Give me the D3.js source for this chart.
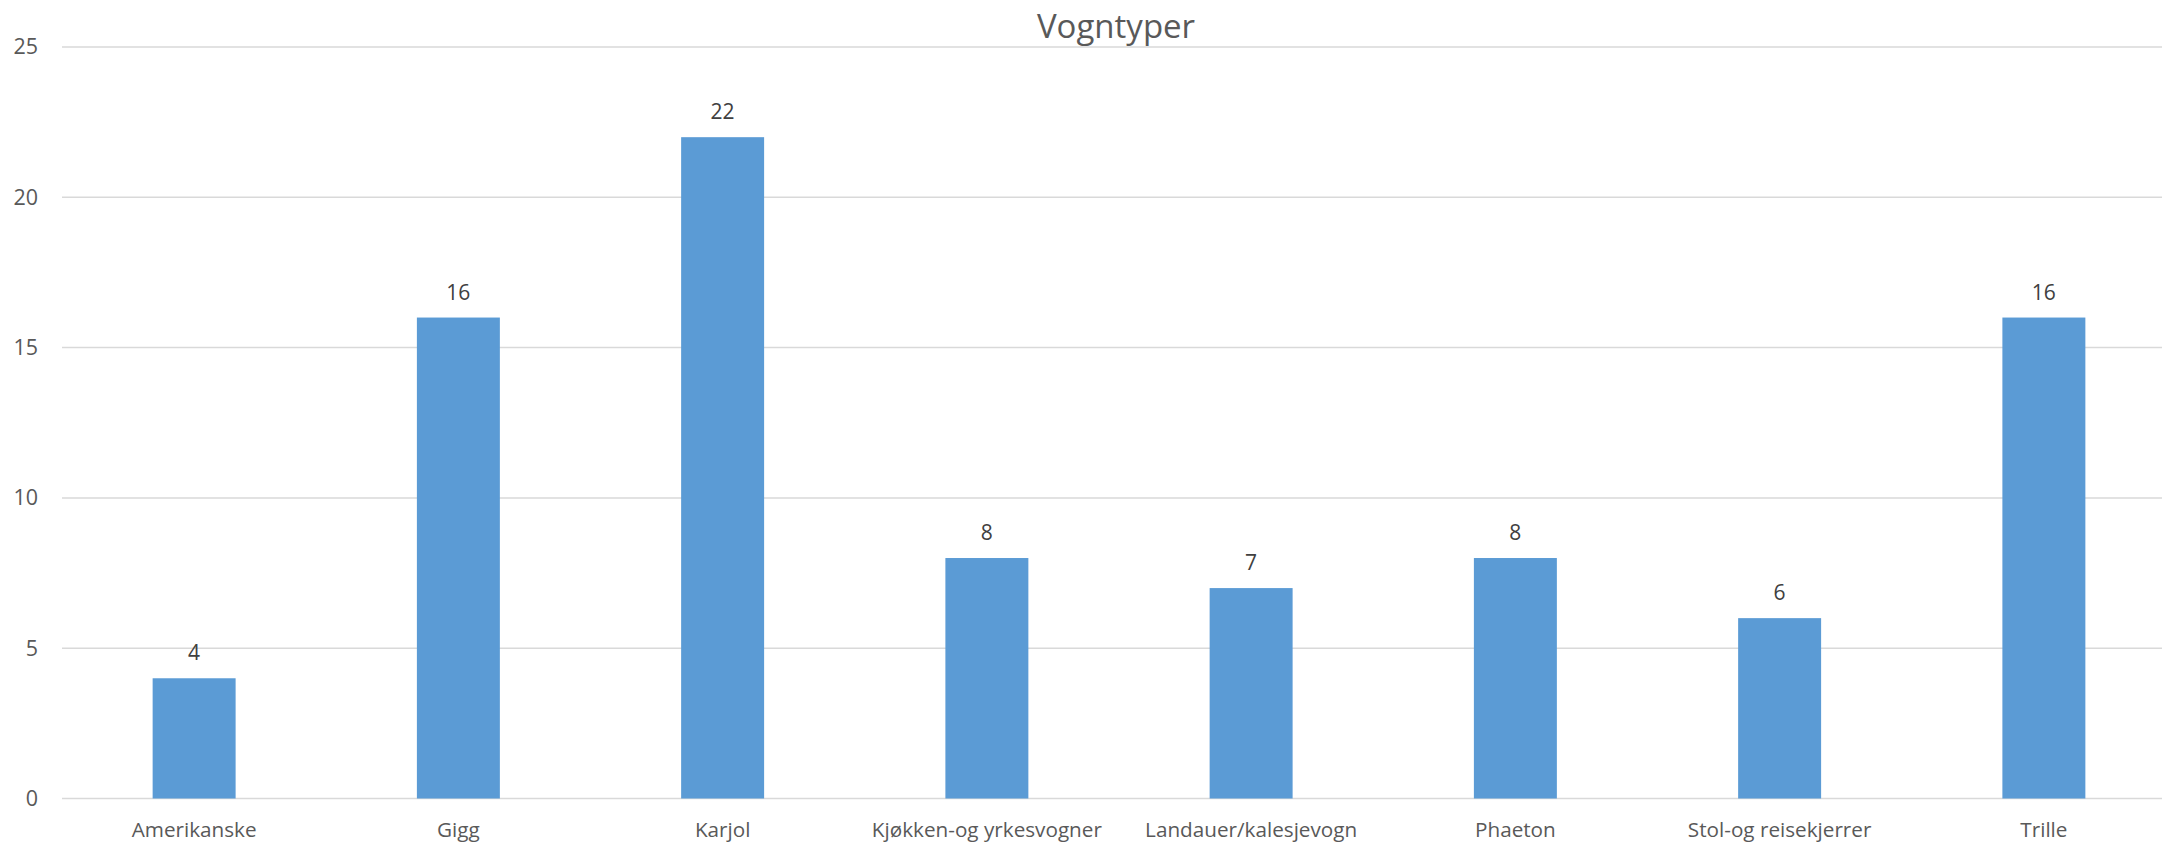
<!DOCTYPE html>
<html>
<head>
<meta charset="utf-8">
<script src="https://cdn.jsdelivr.net/npm/d3@7"></script>
<style>
  body { margin: 0; background: #fff; overflow: hidden; }
  svg { display: block; font-family: "Open Sans", Lato, sans-serif; }
</style>
</head>
<body>
<script>
// chart data
const categories = ['Amerikanske', 'Gigg', 'Karjol', 'Kjøkken-og yrkesvogner',
   'Landauer/kalesjevogn', 'Phaeton', 'Stol-og reisekjerrer', 'Trille'];
const counts = [4, 16, 22, 8, 7, 8, 6, 16];
const yTicks = [0, 5, 10, 15, 20, 25];
const title = 'Vogntyper';

let width = 2162;
let height = 843;
// plot area (right edge runs past the window, like the reference crop)
let plotLeft = 62;
let plotRight = 2176;
let plotTop = 47;
let plotBottom = 798.5;
let font = '"Open Sans", Lato, sans-serif';

let svg = d3.select('body').append('svg')
   .attr('width', width)
   .attr('height', height);

let xScale = d3.scaleBand()
   .domain(categories)
   .range([plotLeft, plotRight])
   .paddingInner(0.686)
   .paddingOuter(0.343);

let yScale = d3.scaleLinear()
   .domain([0, 25])
   .range([plotBottom, plotTop]);

// gridlines
svg.append('g')
   .selectAll('line')
   .data(yTicks)
   .enter()
   .append('line')
   .attr('x1', plotLeft)
   .attr('x2', plotRight)
   .attr('y1', (d) => yScale(d))
   .attr('y2', (d) => yScale(d))
   .attr('stroke', '#d9d9d9')
   .attr('stroke-width', 1.5);

// y axis labels
let yAxis = d3.axisLeft(yScale).tickValues(yTicks).tickSize(0).tickPadding(0);
let yG = svg.append('g')
   .attr('transform', 'translate(38,0)')
   .call(yAxis);
yG.select('.domain').remove();
yG.selectAll('text')
   .attr('fill', '#595959')
   .style('font-size', '21.5px')
   .style('font-family', font);

// bars
svg.selectAll('rect.bar')
   .data(counts)
   .enter()
   .append('rect')
   .attr('class', 'bar')
   .attr('x', (d, i) => xScale(categories[i]))
   .attr('y', (d) => yScale(d))
   .attr('width', xScale.bandwidth())
   .attr('height', (d) => yScale(0) - yScale(d))
   .attr('fill', '#5b9bd5');

// value labels
svg.selectAll('text.value')
   .data(counts)
   .enter()
   .append('text')
   .attr('class', 'value')
   .attr('x', (d, i) => xScale(categories[i]) + xScale.bandwidth() / 2)
   .attr('y', (d) => yScale(d) - 18)
   .attr('text-anchor', 'middle')
   .attr('fill', '#404040')
   .style('font-size', '21px')
   .text((d) => d);

// x axis labels
let xAxis = d3.axisBottom(xScale).tickSize(0).tickPadding(0);
let xG = svg.append('g')
   .attr('transform', 'translate(0,' + plotBottom + ')')
   .call(xAxis);
xG.select('.domain').remove();
xG.selectAll('text')
   .attr('dy', null)
   .attr('y', 38.8)
   .attr('fill', '#595959')
   .style('font-size', '20.7px')
   .style('font-family', font);

// title
svg.append('text')
   .attr('x', 1116)
   .attr('y', 38)
   .attr('text-anchor', 'middle')
   .attr('fill', '#595959')
   .style('font-size', '33px')
   .text(title);
</script>
</body>
</html>
